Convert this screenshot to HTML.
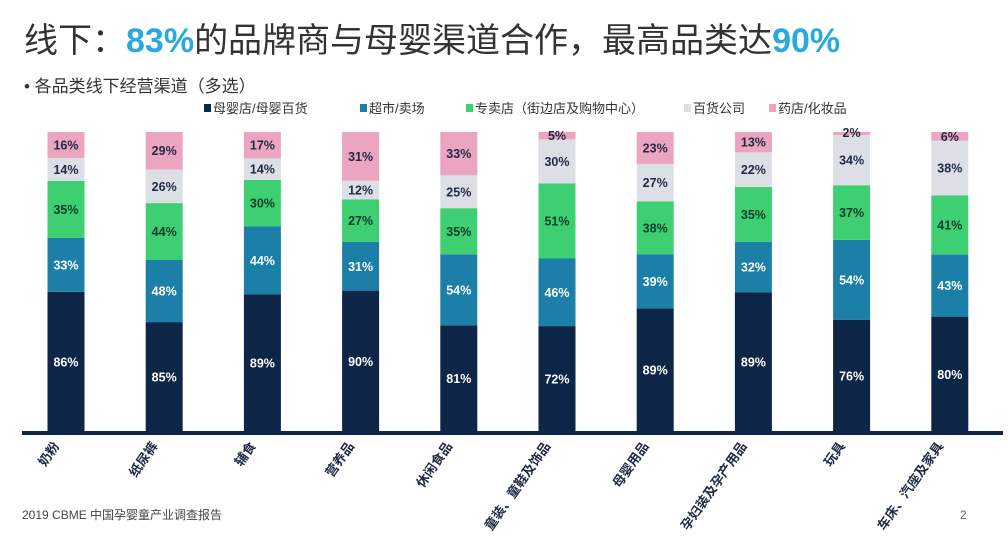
<!DOCTYPE html><html><head><meta charset="utf-8"><style>body{margin:0;background:#fff}svg{display:block}
.w{fill:#fff}.g{fill:#0b3d2a}.k{fill:#1e2a44}
.t{font-size:12.5px;font-weight:bold;text-anchor:middle}
.c{font-size:13px;font-weight:bold;fill:#1e2a44;text-anchor:end}</style></head><body>
<svg width="1008" height="543" xmlns="http://www.w3.org/2000/svg" font-family="Liberation Sans, Noto Sans CJK SC, sans-serif">
<text x="24" y="52" font-size="34" fill="#333">线下：<tspan fill="#29a9e0" font-weight="bold">83%</tspan>的品牌商与母婴渠道合作，最高品类达<tspan fill="#29a9e0" font-weight="bold">90%</tspan></text>
<text x="24" y="92" font-size="17" fill="#333">•  各品类线下经营渠道（多选）</text>
<g font-size="13" fill="#333">
<rect x="204" y="104" width="7" height="8" fill="#0d2546"/><text x="213" y="113">母婴店/母婴百货</text>
<rect x="360" y="104" width="7" height="8" fill="#1b7fa8"/><text x="369" y="113">超市/卖场</text>
<rect x="466" y="104" width="7" height="8" fill="#3dcf72"/><text x="475" y="113">专卖店（街边店及购物中心）</text>
<rect x="684" y="104" width="7" height="8" fill="#dcdfe5"/><text x="693" y="113">百货公司</text>
<rect x="769" y="104" width="7" height="8" fill="#eba5c0"/><text x="778" y="113">药店/化妆品</text>
</g>

<g transform="translate(47.5,0)">
<rect y="291.8" width="37" height="140.2" fill="#0d2546"/><rect y="238" width="37" height="53.8" fill="#1b7fa8"/><rect y="180.9" width="37" height="57.1" fill="#3dcf72"/><rect y="158.1" width="37" height="22.8" fill="#dcdfe5"/><rect y="132" width="37" height="26.1" fill="#eba5c0"/>
<text class="t w" x="18.5" y="366.4">86%</text><text class="t w" x="18.5" y="269.4">33%</text><text class="t g" x="18.5" y="214">35%</text><text class="t k" x="18.5" y="174">14%</text><text class="t k" x="18.5" y="149.6">16%</text>
<text class="c" transform="translate(12.5,446) rotate(-55)">奶粉</text></g>

<g transform="translate(145.7,0)">
<rect y="322.1" width="37" height="109.9" fill="#0d2546"/><rect y="260" width="37" height="62.1" fill="#1b7fa8"/><rect y="203.1" width="37" height="56.9" fill="#3dcf72"/><rect y="169.5" width="37" height="33.6" fill="#dcdfe5"/><rect y="132" width="37" height="37.5" fill="#eba5c0"/>
<text class="t w" x="18.5" y="381.5">85%</text><text class="t w" x="18.5" y="295.5">48%</text><text class="t g" x="18.5" y="236">44%</text><text class="t k" x="18.5" y="190.8">26%</text><text class="t k" x="18.5" y="155.2">29%</text>
<text class="c" transform="translate(12.5,446) rotate(-55)">纸尿裤</text></g>

<g transform="translate(243.9,0)">
<rect y="294.4" width="37" height="137.6" fill="#0d2546"/><rect y="226.4" width="37" height="68" fill="#1b7fa8"/><rect y="180" width="37" height="46.4" fill="#3dcf72"/><rect y="158.4" width="37" height="21.6" fill="#dcdfe5"/><rect y="132" width="37" height="26.4" fill="#eba5c0"/>
<text class="t w" x="18.5" y="367.7">89%</text><text class="t w" x="18.5" y="264.9">44%</text><text class="t g" x="18.5" y="207.7">30%</text><text class="t k" x="18.5" y="173.7">14%</text><text class="t k" x="18.5" y="149.7">17%</text>
<text class="c" transform="translate(12.5,446) rotate(-55)">辅食</text></g>

<g transform="translate(342.1,0)">
<rect y="290.6" width="37" height="141.4" fill="#0d2546"/><rect y="241.9" width="37" height="48.7" fill="#1b7fa8"/><rect y="199.5" width="37" height="42.4" fill="#3dcf72"/><rect y="180.7" width="37" height="18.8" fill="#dcdfe5"/><rect y="132" width="37" height="48.7" fill="#eba5c0"/>
<text class="t w" x="18.5" y="365.8">90%</text><text class="t w" x="18.5" y="270.8">31%</text><text class="t g" x="18.5" y="225.2">27%</text><text class="t k" x="18.5" y="194.6">12%</text><text class="t k" x="18.5" y="160.9">31%</text>
<text class="c" transform="translate(12.5,446) rotate(-55)">营养品</text></g>

<g transform="translate(440.3,0)">
<rect y="325.4" width="37" height="106.6" fill="#0d2546"/><rect y="254.3" width="37" height="71.1" fill="#1b7fa8"/><rect y="208.2" width="37" height="46.1" fill="#3dcf72"/><rect y="175.3" width="37" height="32.9" fill="#dcdfe5"/><rect y="132" width="37" height="43.3" fill="#eba5c0"/>
<text class="t w" x="18.5" y="383.2">81%</text><text class="t w" x="18.5" y="294.4">54%</text><text class="t g" x="18.5" y="235.8">35%</text><text class="t k" x="18.5" y="196.3">25%</text><text class="t k" x="18.5" y="158.2">33%</text>
<text class="c" transform="translate(12.5,446) rotate(-55)">休闲食品</text></g>

<g transform="translate(538.5,0)">
<rect y="326.1" width="37" height="105.9" fill="#0d2546"/><rect y="258.5" width="37" height="67.6" fill="#1b7fa8"/><rect y="183.5" width="37" height="75" fill="#3dcf72"/><rect y="139.4" width="37" height="44.1" fill="#dcdfe5"/><rect y="132" width="37" height="7.4" fill="#eba5c0"/>
<text class="t w" x="18.5" y="383.5">72%</text><text class="t w" x="18.5" y="296.8">46%</text><text class="t g" x="18.5" y="225.5">51%</text><text class="t k" x="18.5" y="166">30%</text><text class="t k" x="18.5" y="140">5%</text>
<text class="c" transform="translate(12.5,446) rotate(-55)">童装、童鞋及饰品</text></g>

<g transform="translate(636.7,0)">
<rect y="308.4" width="37" height="123.6" fill="#0d2546"/><rect y="254.2" width="37" height="54.2" fill="#1b7fa8"/><rect y="201.4" width="37" height="52.8" fill="#3dcf72"/><rect y="163.9" width="37" height="37.5" fill="#dcdfe5"/><rect y="132" width="37" height="31.9" fill="#eba5c0"/>
<text class="t w" x="18.5" y="374.7">89%</text><text class="t w" x="18.5" y="285.8">39%</text><text class="t g" x="18.5" y="232.3">38%</text><text class="t k" x="18.5" y="187.2">27%</text><text class="t k" x="18.5" y="152.4">23%</text>
<text class="c" transform="translate(12.5,446) rotate(-55)">母婴用品</text></g>

<g transform="translate(734.9,0)">
<rect y="292.2" width="37" height="139.8" fill="#0d2546"/><rect y="241.9" width="37" height="50.3" fill="#1b7fa8"/><rect y="186.9" width="37" height="55" fill="#3dcf72"/><rect y="152.3" width="37" height="34.6" fill="#dcdfe5"/><rect y="132" width="37" height="20.3" fill="#eba5c0"/>
<text class="t w" x="18.5" y="366.6">89%</text><text class="t w" x="18.5" y="271.5">32%</text><text class="t g" x="18.5" y="218.9">35%</text><text class="t k" x="18.5" y="174.1">22%</text><text class="t k" x="18.5" y="146.6">13%</text>
<text class="c" transform="translate(12.5,446) rotate(-55)">孕妇装及孕产用品</text></g>

<g transform="translate(833.1,0)">
<rect y="319.7" width="37" height="112.3" fill="#0d2546"/><rect y="239.9" width="37" height="79.8" fill="#1b7fa8"/><rect y="185.2" width="37" height="54.7" fill="#3dcf72"/><rect y="135" width="37" height="50.2" fill="#dcdfe5"/><rect y="132" width="37" height="3" fill="#eba5c0"/>
<text class="t w" x="18.5" y="380.4">76%</text><text class="t w" x="18.5" y="284.3">54%</text><text class="t g" x="18.5" y="217">37%</text><text class="t k" x="18.5" y="164.6">34%</text><text class="t k" x="18.5" y="137">2%</text>
<text class="c" transform="translate(12.5,446) rotate(-55)">玩具</text></g>

<g transform="translate(931.3,0)">
<rect y="316.6" width="37" height="115.4" fill="#0d2546"/><rect y="254.6" width="37" height="62" fill="#1b7fa8"/><rect y="195.5" width="37" height="59.1" fill="#3dcf72"/><rect y="140.7" width="37" height="54.8" fill="#dcdfe5"/><rect y="132" width="37" height="8.7" fill="#eba5c0"/>
<text class="t w" x="18.5" y="378.8">80%</text><text class="t w" x="18.5" y="290.1">43%</text><text class="t g" x="18.5" y="229.5">41%</text><text class="t k" x="18.5" y="172.6">38%</text><text class="t k" x="18.5" y="140.8">6%</text>
<text class="c" transform="translate(12.5,446) rotate(-55)">车床、汽座及家具</text></g>

<rect x="22" y="431" width="981" height="4" fill="#0d2546"/>
<text x="22" y="519" font-size="12" fill="#444">2019 CBME 中国孕婴童产业调查报告</text>
<text x="960" y="519" font-size="12" fill="#666">2</text>
</svg></body></html>
